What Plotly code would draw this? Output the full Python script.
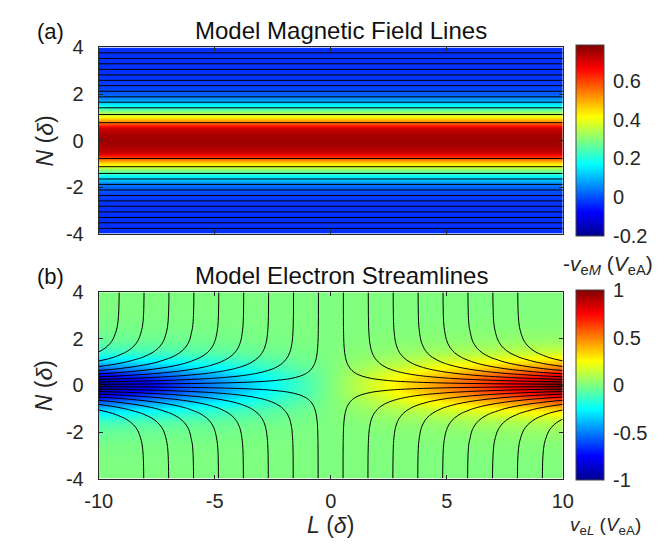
import numpy as np
import plotly.graph_objects as go

# ---------------- data ----------------
# Panel (a): -v_eM profile across the sheet (function of N only)
N_a = [0, 0.25, 0.5, 0.6, 0.75, 0.9, 1.0, 1.1, 1.25, 1.4, 1.55, 1.7, 1.85, 2.0, 2.25, 2.5, 3.0, 4.0]
veM_neg = [0.76, 0.75, 0.72, 0.67, 0.58, 0.49, 0.44, 0.39, 0.31, 0.23, 0.16, 0.10, 0.05, 0.02, -0.01, -0.02, -0.03, -0.03]
# N positions of the drawn magnetic field lines (upper half; mirrored below)
fieldline_N = [0.77, 1.12, 1.41, 1.65, 1.88, 2.12, 2.36, 2.59, 2.82, 3.06, 3.30, 3.53, 3.77]

# Panel (b): v_eL = (value at N=0 along L) x (normalised N profile)
L_b = [-10, -9, -8, -7, -6, -5, -4, -3, -2, -1, 0, 1, 2, 3, 4, 5, 6, 7, 8, 9, 10]
veL_N0 = [-0.97, -0.87, -0.78, -0.68, -0.58, -0.49, -0.39, -0.29, -0.19, -0.10, 0.0,
          0.10, 0.19, 0.29, 0.39, 0.49, 0.58, 0.68, 0.78, 0.87, 0.97]
N_b = [0, 0.1, 0.2, 0.3, 0.4, 0.5, 0.6, 0.7, 0.8, 0.9, 1.0, 1.2, 1.4, 1.6, 1.8, 2.0, 2.5, 3.0, 3.5, 4.0]
veL_Nshape = [1.0, 0.988, 0.955, 0.903, 0.837, 0.76, 0.68, 0.60, 0.52, 0.45, 0.38, 0.27, 0.18,
              0.12, 0.08, 0.05, 0.018, 0.006, 0.002, 0.001]
# L positions (at N = +-4) of the streamlines
streamline_L_top = [0.53, 1.60, 2.68, 3.75, 4.82, 5.90, 6.97, 8.04, 9.12]

x_ticks = [-10, -5, 0, 5, 10]
x_ticktext = ['-10', '-5', '0', '5', '10']
y_ticks = [-4, -2, 0, 2, 4]
y_ticktext = ['-4', '-2', '0', '2', '4']
cb_a_ticks = [-0.2, 0, 0.2, 0.4, 0.6]
cb_a_text = ['-0.2', '0', '0.2', '0.4', '0.6']
cb_b_ticks = [-1, -0.5, 0, 0.5, 1]
cb_b_text = ['-1', '-0.5', '0', '0.5', '1']

# ---------------- derived grids ----------------
Na = np.array(N_a)
Ya = np.concatenate([-Na[::-1], Na[1:]])
pa = np.array(veM_neg)
Pa = np.concatenate([pa[::-1], pa[1:]])
Za = np.repeat(Pa[:, None], 2, axis=1)

Nb = np.array(N_b)
hb = np.array(veL_Nshape)
Yb = np.concatenate([-Nb[::-1], Nb[1:]])
Hfull = np.concatenate([hb[::-1], hb[1:]])
Zb = Hfull[:, None] * np.array(veL_N0)[None, :]
# stream function psi = L * H(N)/H(4), H = integral of the N profile
Hc = np.concatenate([[0], np.cumsum(0.5 * (hb[1:] + hb[:-1]) * np.diff(Nb))])
Hc = Hc / Hc[-1]
Hodd = np.concatenate([-Hc[::-1], Hc[1:]])
Psi = Hodd[:, None] * np.array(L_b, dtype=float)[None, :]

jet = [[0, '#00008f'], [0.125, '#0000ff'], [0.375, '#00ffff'],
       [0.625, '#ffff00'], [0.875, '#ff0000'], [1, '#800000']]

W, H = 671, 552
def px(x):
    return x / W
def py(y):
    return 1 - y / H

FONT = 'Liberation Sans, Arial, sans-serif'
TXT = '#262626'
FS = 20

fig = go.Figure()

cb_common = dict(x=px(584), xanchor='left', xpad=0, thickness=28, thicknessmode='pixels',
                 lenmode='pixels', yanchor='middle', ypad=0,
                 ticks='outside', ticklen=5, tickcolor='rgba(0,0,0,0)',
                 tickfont=dict(family=FONT, size=FS, color=TXT),
                 outlinewidth=1, outlinecolor='#444')

fig.add_trace(go.Heatmap(
    x=[-10, 10], y=Ya, z=Za, colorscale=jet, zmin=-0.2, zmax=0.79, zsmooth='best',
    xaxis='x', yaxis='y', hoverinfo='skip',
    colorbar=dict(len=191, y=py(134.5), tickvals=cb_a_ticks, ticktext=cb_a_text, **cb_common)))

lx, ly = [], []
for n in fieldline_N:
    for s in (1, -1):
        lx += [-10, 10, None]
        ly += [s * n, s * n, None]
fig.add_trace(go.Scatter(x=lx, y=ly, mode='lines', line=dict(color='black', width=1),
                         xaxis='x', yaxis='y', hoverinfo='skip', showlegend=False))

fig.add_trace(go.Heatmap(
    x=L_b, y=Yb, z=Zb, colorscale=jet, zmin=-1, zmax=1, zsmooth='best',
    xaxis='x2', yaxis='y2', hoverinfo='skip',
    colorbar=dict(len=190, y=py(390), tickvals=cb_b_ticks, ticktext=cb_b_text, **cb_common)))

step = (streamline_L_top[-1] - streamline_L_top[0]) / (len(streamline_L_top) - 1)
fig.add_trace(go.Contour(
    x=L_b, y=Yb, z=Psi, xaxis='x2', yaxis='y2', showscale=False, hoverinfo='skip',
    contours=dict(coloring='none', start=-streamline_L_top[-1], end=streamline_L_top[-1] + 1e-6,
                  size=step, showlines=True),
    line=dict(color='black', width=1, smoothing=1)))

dom_x = [px(88), px(570)]
axis_common = dict(ticks='inside', ticklen=4, tickcolor=TXT, showline=True, linecolor=TXT,
                   linewidth=1, mirror='ticks', showgrid=False, zeroline=False,
                   tickfont=dict(family=FONT, size=FS, color=TXT))
fig.update_layout(
    width=W, height=H, margin=dict(l=0, r=0, t=0, b=0),
    paper_bgcolor='white', plot_bgcolor='white', showlegend=False,
    xaxis=dict(domain=dom_x, anchor='y', range=[-10, 10], tickvals=x_ticks,
               showticklabels=False, **axis_common),
    yaxis=dict(domain=[py(232), py(38)], anchor='x', range=[-4, 4], tickvals=y_ticks,
               ticktext=y_ticktext, ticklabelstandoff=10, **axis_common),
    xaxis2=dict(domain=dom_x, anchor='y2', range=[-10, 10], tickvals=x_ticks,
                ticktext=x_ticktext, ticklabelstandoff=4, **axis_common),
    yaxis2=dict(domain=[py(487), py(293)], anchor='x2', range=[-4, 4], tickvals=y_ticks,
                ticktext=y_ticktext, ticklabelstandoff=10, **axis_common),
)

def ann(text, x, y, size=FS, angle=0, xanchor='center', color=TXT):
    fig.add_annotation(text=text, x=px(x), y=py(y), xref='paper', yref='paper',
                       showarrow=False, xanchor=xanchor, yanchor='middle', textangle=angle,
                       font=dict(family=FONT, size=size, color=color))

ann('(a)', 38, 21, size=22, color='#111')
ann('(b)', 38, 276, size=22, color='#111')
ann('Model Magnetic Field Lines', 340, 20, size=24, color='#111')
ann('Model Electron Streamlines', 340, 275, size=24, color='#111')
ann('<i>N</i> (<i>δ</i>)', 32, 135, size=23, angle=-90)
ann('<i>N</i> (<i>δ</i>)', 32, 390, size=23, angle=-90)
ann('<i>L</i> (<i>δ</i>)', 329, 535, size=23)
ann('-<i>v</i><sub>e<i>M</i></sub> (<i>V</i><sub>eA</sub>)', 617, 265, size=21)
ann('<i>v</i><sub>e<i>L</i></sub> (<i>V</i><sub>eA</sub>)', 614, 536, size=19)

fig.write_html('out.html')
